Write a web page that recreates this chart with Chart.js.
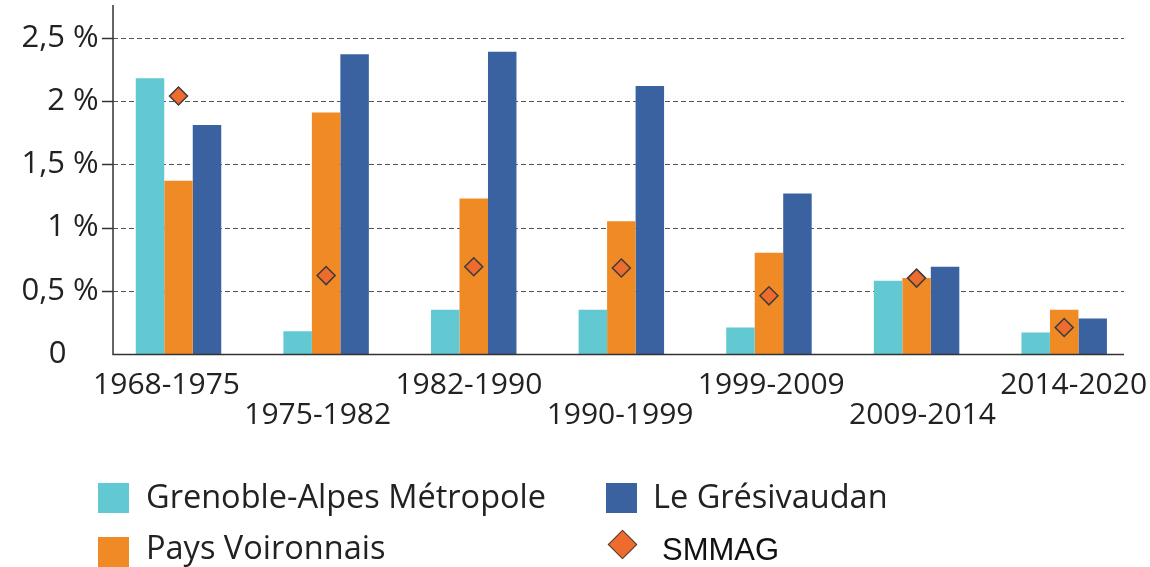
<!DOCTYPE html>
<html>
<head>
<meta charset="utf-8">
<script src="https://cdn.jsdelivr.net/npm/chart.js@4.4.1/dist/chart.umd.min.js"></script>
<style>
  html, body { margin: 0; padding: 0; background: #fff; overflow: hidden; }
  #wrap { position: relative; width: 1150px; height: 567px; }
  canvas { position: absolute; left: 0; top: 0; }
  .sw { position: absolute; width: 31px; height: 30px; }
  .lt { position: absolute; font-family: "Open Sans", sans-serif; font-size: 32.5px; line-height: 40px; color: #222; white-space: nowrap; }
  .dia { position: absolute; width: 19px; height: 19px; background: #EC6B2D; border: 1.5px solid #3c3c3c; transform: rotate(45deg); }
  .lt2 { position: absolute; font-family: "Liberation Sans", Arial, sans-serif; font-size: 31px; line-height: 40px; color: #111; white-space: nowrap; }
</style>
</head>
<body>
<div id="wrap">
  <canvas id="c" width="1150" height="567"></canvas>
  <div class="sw" style="left:98px;top:483px;background:#62C9D3"></div>
  <div class="lt" id="l1" style="left:146px;top:476px"></div>
  <div class="sw" style="left:98px;top:537px;background:#EF8A25"></div>
  <div class="lt" id="l2" style="left:146px;top:527px"></div>
  <div class="sw" style="left:606px;top:483px;background:#3B62A0"></div>
  <div class="lt" id="l3" style="left:653px;top:476px"></div>
  <div class="dia" style="left:612px;top:534px"></div>
  <div class="lt2" id="l4" style="left:662px;top:530px"></div>
</div>
<script>
const categories = ['1968-1975', '1975-1982', '1982-1990', '1990-1999', '1999-2009', '2009-2014', '2014-2020'];
const seriesNames = ['Grenoble-Alpes Métropole', 'Pays Voironnais', 'Le Grésivaudan', 'SMMAG'];
const grenoble = [2.18, 0.18, 0.35, 0.35, 0.21, 0.58, 0.17];
const voironnais = [1.37, 1.91, 1.23, 1.05, 0.80, 0.60, 0.35];
const gresivaudan = [1.81, 2.37, 2.39, 2.12, 1.27, 0.69, 0.28];
const smmag = [2.04, 0.62, 0.69, 0.68, 0.46, 0.60, 0.21];
const yTickValues = [0, 0.5, 1, 1.5, 2, 2.5];
const yTickLabels = ['0', '0,5 %', '1 %', '1,5 %', '2 %', '2,5 %'];

document.getElementById('l1').textContent = seriesNames[0];
document.getElementById('l2').textContent = seriesNames[1];
document.getElementById('l3').textContent = seriesNames[2];
document.getElementById('l4').textContent = seriesNames[3];

const AXIS_LEFT = 113, AXIS_RIGHT = 1124, AXIS_TOP = 5;

const axesPlugin = {
  id: 'customAxes',
  beforeDatasetsDraw(chart) {
    const ctx = chart.ctx, y = chart.scales.y;
    ctx.save();
    yTickValues.forEach(v => {
      if (v === 0) return;
      const py = Math.round(y.getPixelForValue(v)) + 0.5;
      ctx.strokeStyle = '#555';
      ctx.lineWidth = 1;
      ctx.setLineDash([5, 3]);
      ctx.beginPath(); ctx.moveTo(AXIS_LEFT, py); ctx.lineTo(AXIS_RIGHT, py); ctx.stroke();
      ctx.setLineDash([]);
      ctx.strokeStyle = '#333';
      ctx.lineWidth = 1.5;
      ctx.beginPath(); ctx.moveTo(102, py); ctx.lineTo(AXIS_LEFT, py); ctx.stroke();
    });
    ctx.restore();
  },
  afterDatasetsDraw(chart) {
    const ctx = chart.ctx, y = chart.scales.y;
    const p0 = Math.round(y.getPixelForValue(0)) + 0.5;
    ctx.save();
    ctx.strokeStyle = '#333';
    ctx.lineWidth = 1.5;
    ctx.beginPath();
    ctx.moveTo(AXIS_LEFT, AXIS_TOP); ctx.lineTo(AXIS_LEFT, p0); ctx.lineTo(AXIS_RIGHT, p0);
    ctx.stroke();
    ctx.restore();
  }
};

new Chart(document.getElementById('c'), {
  data: {
    labels: categories,
    datasets: [
      { type: 'line', label: seriesNames[3], data: smmag, showLine: false, order: 0,
        pointStyle: 'rectRot', pointRadius: 9, pointHoverRadius: 9,
        pointBackgroundColor: '#EC6B2D', pointBorderColor: '#3c3c3c', pointBorderWidth: 1.5, xAxisID: 'x' },
      { type: 'bar', label: seriesNames[0], data: grenoble, backgroundColor: '#62C9D3', order: 1, xAxisID: 'x' },
      { type: 'bar', label: seriesNames[1], data: voironnais, backgroundColor: '#EF8A25', order: 1, xAxisID: 'x' },
      { type: 'bar', label: seriesNames[2], data: gresivaudan, backgroundColor: '#3B62A0', order: 1, xAxisID: 'x' }
    ]
  },
  options: {
    responsive: false,
    animation: false,
    events: [],
    layout: { padding: { top: 5, right: 12, left: 0, bottom: 0 } },
    datasets: { bar: { categoryPercentage: 0.579, barPercentage: 1.0, borderWidth: 0 } },
    plugins: { legend: { display: false }, tooltip: { enabled: false } },
    scales: {
      x: { type: 'category', display: false, offset: true },
      xl: {
        type: 'linear', position: 'bottom', min: -0.409, max: 6.426,
        afterBuildTicks: s => { s.ticks = categories.map((_, i) => ({ value: i })); },
        afterFit: s => { s.height = 213; s.paddingLeft = 0; s.paddingRight = 0; },
        grid: { display: false, drawTicks: false }, border: { display: false },
        ticks: {
          autoSkip: false, maxRotation: 0, minRotation: 0, padding: 16, color: '#222',
          font: { family: 'Open Sans', size: 30, lineHeight: 1.0 },
          callback: v => (v % 2 === 0 ? [categories[v]] : ['', categories[v]])
        }
      },
      y: {
        type: 'linear', min: 0, max: 2.716,
        afterBuildTicks: s => { s.ticks = yTickValues.map(v => ({ value: v })); },
        afterFit: s => { s.width = 104.7; s.paddingTop = 0; s.paddingBottom = 0; },
        grid: { display: false, drawTicks: false }, border: { display: false },
        ticks: {
          padding: 6, color: '#222',
          font: { family: 'Open Sans', size: 31 },
          callback: (v) => { const i = yTickValues.indexOf(v); return i === 0 ? yTickLabels[i] + '    ' : yTickLabels[i]; }
        }
      }
    }
  },
  plugins: [axesPlugin]
});
</script>
</body>
</html>
